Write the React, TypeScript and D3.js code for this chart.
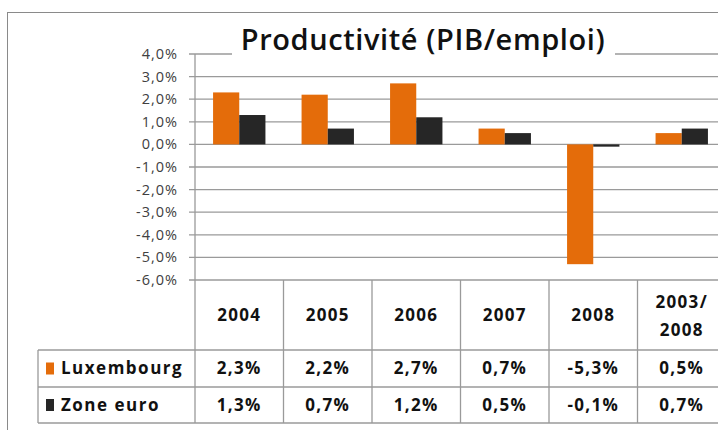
import React from 'react';
import * as d3 from 'd3';

// chart data
const years = ['2004', '2005', '2006', '2007', '2008', '2003/2008'];
const luxembourg = [2.3, 2.2, 2.7, 0.7, -5.3, 0.5];
const zoneEuro = [1.3, 0.7, 1.2, 0.5, -0.1, 0.7];
const seriesNames = ['Luxembourg', 'Zone euro'];
const colors = ['#E46C0A', '#262626'];
const yTicks = [4, 3, 2, 1, 0, -1, -2, -3, -4, -5, -6];

const fmt = (v: number) => v.toFixed(1).replace('.', ',') + '%';

export default function App() {
  const width = 718;
  const height = 430;
  const margin = {top: 54, left: 195, right: -8, bottom: 150};
  const tableLeft = 38;
  const rowH = [70, 37, 36];

  const yScale = d3.scaleLinear().domain([-6, 4]).range([height - margin.bottom, margin.top]);
  const xScale = d3.scaleBand().domain(years).range([margin.left, width - margin.right]).padding(0);
  const inner = d3.scaleBand().domain(['0', '1']).range([0, xScale.bandwidth()]).paddingInner(0).paddingOuter(0.69);

  const series = [luxembourg, zoneEuro];
  const tableTop = yScale(-6);
  const headerBottom = tableTop + rowH[0];
  const row1Bottom = headerBottom + rowH[1];
  const row2Bottom = row1Bottom + rowH[2];
  const xEnd = width - margin.right;
  const grid = '#9a9a9a';
  const font = "'Open Sans', 'DejaVu Sans', sans-serif";

  return (
    <svg width={width} height={height} style={{position: 'absolute', left: 0, top: 0, background: '#fff'}}>
      <rect x={7.5} y={12.5} width={800} height={500} fill="#fff" stroke="#8a8a8a" />

      {/* gridlines + y labels */}
      {yTicks.map((t) => (
        <g key={t}>
          <line x1={margin.left - 6} x2={xEnd} y1={yScale(t)} y2={yScale(t)} stroke={grid} strokeWidth={1.3} />
          <text x={178} y={yScale(t)} dy="0.35em" textAnchor="end" fontFamily={font} fontSize={14.5}
            letterSpacing={1} fill="#404040">{fmt(t)}</text>
        </g>
      ))}

      {/* title */}
      <rect x={232} y={28} width={383} height={32} fill="#fff" />
      <text x={423} y={50} textAnchor="middle" fontFamily={font} fontWeight={600} fontSize={29}
        letterSpacing={0.6} fill="#111">Productivité (PIB/emploi)</text>

      {/* bars */}
      {series.map((vals, si) => (
        <g key={si}>
          {vals.map((v, i) => (
            <rect key={i}
              x={(xScale(years[i]) as number) + (inner(String(si)) as number)}
              y={yScale(Math.max(0, v))}
              width={inner.bandwidth()}
              height={Math.abs(yScale(v) - yScale(0))}
              fill={colors[si]} />
          ))}
        </g>
      ))}

      {/* y axis line */}
      <line x1={margin.left} x2={margin.left} y1={margin.top} y2={row2Bottom} stroke={grid} strokeWidth={1.3} />

      {/* data table */}
      <g stroke={grid} strokeWidth={1.3}>
        <line x1={tableLeft} x2={xEnd} y1={headerBottom} y2={headerBottom} />
        <line x1={tableLeft} x2={xEnd} y1={row1Bottom} y2={row1Bottom} />
        <line x1={tableLeft} x2={xEnd} y1={row2Bottom} y2={row2Bottom} />
        <line x1={tableLeft} x2={tableLeft} y1={headerBottom} y2={row2Bottom} />
        {years.map((yr) => (
          <line key={yr} x1={(xScale(yr) as number) + xScale.bandwidth()} x2={(xScale(yr) as number) + xScale.bandwidth()}
            y1={tableTop} y2={row2Bottom} />
        ))}
      </g>

      {years.map((yr, i) => {
        const cx = (xScale(yr) as number) + xScale.bandwidth() / 2;
        const parts = yr.includes('/') ? [yr.split('/')[0] + '/', yr.split('/')[1]] : [yr];
        return (
          <g key={yr} fontFamily={font} fontWeight={700} fontSize={17} letterSpacing={1.3} fill="#111" textAnchor="middle">
            {parts.length === 1 ? (
              <text x={cx} y={(tableTop + headerBottom) / 2} dy="0.35em">{yr}</text>
            ) : (
              <>
                <text x={cx} y={(tableTop + headerBottom) / 2 - 13} dy="0.35em">{parts[0]}</text>
                <text x={cx} y={(tableTop + headerBottom) / 2 + 15} dy="0.35em">{parts[1]}</text>
              </>
            )}
            <text x={cx} y={(headerBottom + row1Bottom) / 2} dy="0.35em">{fmt(luxembourg[i])}</text>
            <text x={cx} y={(row1Bottom + row2Bottom) / 2} dy="0.35em">{fmt(zoneEuro[i])}</text>
          </g>
        );
      })}

      {/* legend keys */}
      {seriesNames.map((name, si) => {
        const top = si === 0 ? headerBottom : row1Bottom;
        const mid = top + rowH[si + 1] / 2;
        return (
          <g key={name}>
            <rect x={46} y={mid - 6} width={8} height={12} fill={colors[si]} />
            <text x={61} y={mid} dy="0.35em" fontFamily={font} fontWeight={700} fontSize={17}
              letterSpacing={1.5} fill="#111">{name}</text>
          </g>
        );
      })}
    </svg>
  );
}
